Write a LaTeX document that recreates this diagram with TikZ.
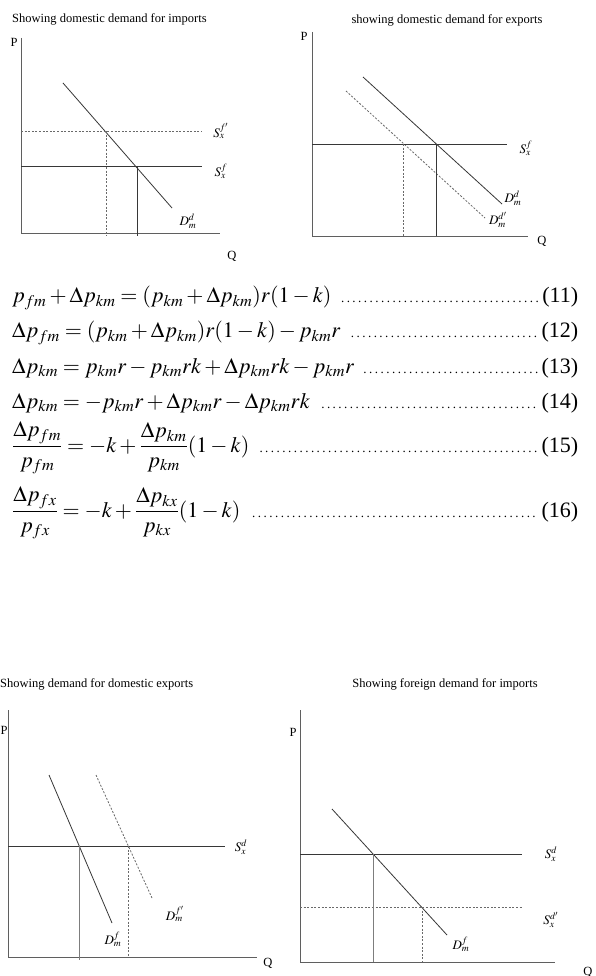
\documentclass[tikz,border=0pt]{standalone}
\usepackage{mathptmx}
\usepackage{fontspec}
\setmainfont{Liberation Serif}
\usepackage{xcolor}
\usetikzlibrary{positioning}
\definecolor{AxisGray}{RGB}{95,95,95}
\definecolor{LineDark}{RGB}{55,55,55}
\definecolor{GuideGray}{RGB}{125,125,125}
\definecolor{DashGray}{RGB}{105,105,105}
\newcommand{\eqrow}[2]{\hbox to 566pt{$\displaystyle #1$\hskip 8pt{\fontsize{13}{13}\selectfont\dotfill}\hskip 2pt(#2)}}
\tikzset{
  %%── 坐标轴与曲线 ─────────────────────────────────────────
  axisln/.style   = {draw = AxisGray, line width = 0.9pt},
  dem/.style      = {draw = LineDark, line width = 0.8pt},
  demdash/.style  = {draw = DashGray, line width = 0.8pt, dash pattern = on 2pt off 1.6pt},
  guide/.style    = {draw = GuideGray, line width = 0.7pt},
  guidedash/.style= {draw = DashGray, line width = 0.7pt, dash pattern = on 2pt off 1.6pt},
  %%── 文字 ─────────────────────────────────────────────────
  ttl/.style      = {inner sep = 0pt, font = \fontsize{12.5}{14}\selectfont},
  axlbl/.style    = {inner sep = 0pt, font = \fontsize{12.5}{14}\selectfont},
  crvlbl/.style   = {inner sep = 0pt, font = \fontsize{13}{15}\selectfont},
  eqn/.style      = {anchor = west, inner sep = 0pt, font = \fontsize{22}{26}\selectfont},
}

\begin{document}
\begin{tikzpicture}[x = 1pt, y = -1pt]

  \useasboundingbox[fill = white] (0,0) rectangle (595,976);

  %% 图一：国内进口需求
  \node[ttl, anchor = west] (t1) at (12,19) {Showing domestic demand for imports};
  \node[axlbl] (p1) at (14,42) {P};
  \node[axlbl] (q1) at (232,256) {Q};
  \draw[axisln] (21,38) -- (21,233) -- (220,233);
  \draw[dem] (63,83) -- (172,208);
  \draw[guidedash] (21,131) -- (202,131);
  \draw[dem] (21,166) -- (202,166);
  \draw[guidedash] (106,131) -- (106,236);
  \draw[dem] (137,166) -- (137,236);
  \node[crvlbl] (s1a) at (221,131) {$S_x^{f'}$};
  \node[crvlbl] (s1b) at (221,171) {$S_x^{f}$};
  \node[crvlbl] (d1)  at (188,221) {$D_m^{d}$};

  %% 图二：国内出口需求
  \node[ttl] (t2) at (447,20) {showing domestic demand for exports};
  \node[axlbl] (p2) at (304,36) {P};
  \node[axlbl] (q2) at (542,241) {Q};
  \draw[axisln] (312,32) -- (312,236) -- (528,236);
  \draw[dem] (363,77) -- (502,204);
  \draw[demdash] (346,91) -- (485,218);
  \draw[dem] (312,144) -- (507,144);
  \draw[dem] (436,144) -- (436,236);
  \draw[guidedash] (403,144) -- (403,236);
  \node[crvlbl] (s2)  at (526,148) {$S_x^{f}$};
  \node[crvlbl] (d2a) at (513,198) {$D_m^{d}$};
  \node[crvlbl] (d2b) at (498,220) {$D_m^{d'}$};

  %% 公式 (11)–(16)
  \node[eqn] (e11) at (12,298) {\eqrow{p_{fm}+\Delta p_{km}=(p_{km}+\Delta p_{km})r(1-k)}{11}};
  \node[eqn] (e12) at (12,333) {\eqrow{\Delta p_{fm}=(p_{km}+\Delta p_{km})r(1-k)-p_{km}r}{12}};
  \node[eqn] (e13) at (12,368) {\eqrow{\Delta p_{km}=p_{km}r-p_{km}rk+\Delta p_{km}rk-p_{km}r}{13}};
  \node[eqn] (e14) at (12,403) {\eqrow{\Delta p_{km}=-p_{km}r+\Delta p_{km}r-\Delta p_{km}rk}{14}};
  \node[eqn] (e15) at (12,448) {\eqrow{\frac{\Delta p_{fm}}{p_{fm}}=-k+\frac{\Delta p_{km}}{p_{km}}(1-k)}{15}};
  \node[eqn] (e16) at (12,513) {\eqrow{\frac{\Delta p_{fx}}{p_{fx}}=-k+\frac{\Delta p_{kx}}{p_{kx}}(1-k)}{16}};

  %% 图三：国内出口的需求
  \node[ttl, anchor = west] (t3) at (0,684) {Showing demand for domestic exports};
  \node[axlbl] (p3) at (4,730) {P};
  \node[axlbl] (q3) at (268,963) {Q};
  \draw[axisln] (8,710) -- (8,957) -- (257,957);
  \draw[dem] (49,775) -- (112,923);
  \draw[demdash] (96,775) -- (152,898);
  \draw[dem] (8,846) -- (225,846);
  \draw[guide] (79,846) -- (79,960);
  \draw[guidedash, line width = 1pt] (128,846) -- (128,957);
  \node[crvlbl] (s3)  at (241,847) {$S_x^{d}$};
  \node[crvlbl] (d3a) at (175,914) {$D_m^{f'}$};
  \node[crvlbl] (d3b) at (113,939) {$D_m^{f}$};

  %% 图四：国外进口需求
  \node[ttl] (t4) at (445,684) {Showing foreign demand for imports};
  \node[axlbl] (p4) at (293,732) {P};
  \node[axlbl] (q4) at (588,972) {Q};
  \draw[axisln] (300,710) -- (300,962) -- (555,962);
  \draw[dem] (332,809) -- (447,935);
  \draw[dem] (300,854) -- (522,854);
  \draw[guidedash] (300,907) -- (522,907);
  \draw[guide] (373,854) -- (373,962);
  \draw[guidedash, line width = 1pt] (422,907) -- (422,962);
  \node[crvlbl] (s4a) at (551,854) {$S_x^{d}$};
  \node[crvlbl] (s4b) at (551,920) {$S_x^{d'}$};
  \node[crvlbl] (d4)  at (461,944) {$D_m^{f}$};

\end{tikzpicture}
\end{document}
